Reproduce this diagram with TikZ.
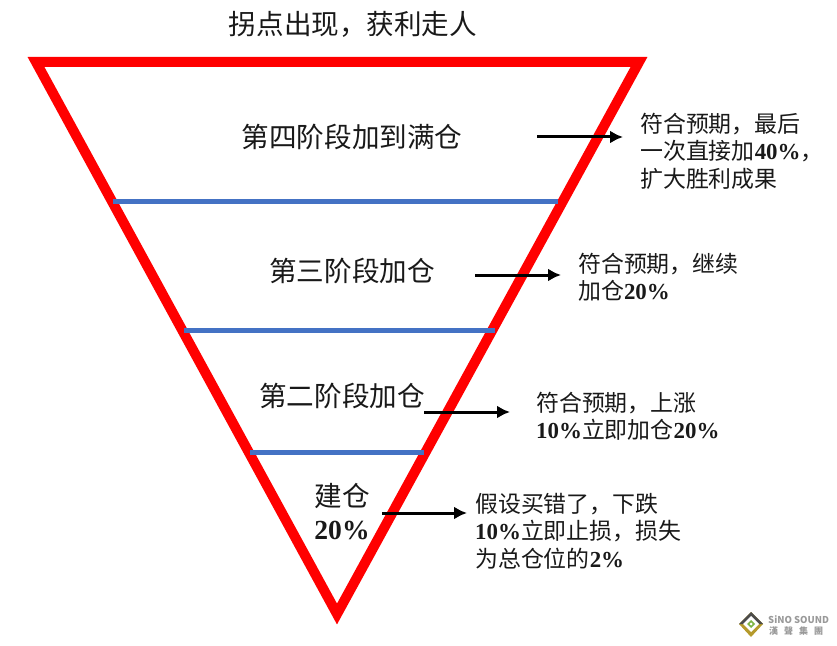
\documentclass[tikz,border=0pt]{standalone}
\usepackage{fontspec}
\setmainfont{Noto Sans CJK SC}
\newfontfamily\numfont{Liberation Serif}
\newcommand{\digits}[1]{{\numfont\bfseries #1}}
\usepackage{xcolor}
\usetikzlibrary{arrows.meta, positioning}
\definecolor{vred}{HTML}{FF0000}
\definecolor{lineblue}{HTML}{4472C4}
\definecolor{logogold}{HTML}{B59A2C}
\definecolor{logogreen}{HTML}{7DB544}
\begin{document}
\begin{tikzpicture}
[>={Latex[length=13bp,width=13bp]}, x=1bp, y=-1bp]
% Define styles for triangle, levels, arrows and texts
\tikzstyle{funnel} = [draw=vred, line width=10bp, line join=miter, miter limit=10]
\tikzstyle{level} = [draw=lineblue, line width=5bp]
\tikzstyle{pointer} = [draw=black, line width=3bp, ->]
\tikzstyle{stage} = [font=\fontsize{27.7}{33}\selectfont, text=black!90, align=center, inner sep=0pt]
\tikzstyle{remark} = [font=\fontsize{23}{27.5}\selectfont, text=black!90, align=left, inner sep=0pt, anchor=west]
\useasboundingbox (0,0) rectangle (837,646);

% Triangle corners and levels
\coordinate (topleft) at (36,62);
\coordinate (topright) at (639,62);
\coordinate (bottom) at (337,614);
\draw [funnel] (topleft) -- (topright) -- (bottom) -- cycle;

\coordinate (level3w) at (113,202);
\coordinate (level3e) at (558,202);
\coordinate (level2w) at (184,330);
\coordinate (level2e) at (495,330);
\coordinate (level1w) at (250,452);
\coordinate (level1e) at (424,452);
\draw [level] (level3w) -- (level3e);
\draw [level] (level2w) -- (level2e);
\draw [level] (level1w) -- (level1e);

% Nodes placement
\node [stage] (title) at (353,24) {拐点出现，获利走人};
\node [stage] (stage4) at (352,137) {第四阶段加到满仓};
\node [stage] (stage3) at (352,271) {第三阶段加仓};
\node [stage] (stage2) at (342,396) {第二阶段加仓};
\node [stage] (stage1) at (342,512) {建仓\\\digits{20\%}};

\node [remark] (remark4) at (640,151) {符合预期，最后\\一次直接加\digits{40\%}，\\扩大胜利成果};
\node [remark] (remark3) at (578,277) {符合预期，继续\\加仓\digits{20\%}};
\node [remark] (remark2) at (536,416) {符合预期，上涨\\\digits{10\%}立即加仓\digits{20\%}};
\node [remark] (remark1) at (475,531) {假设买错了，下跌\\\digits{10\%}立即止损，损失\\为总仓位的\digits{2\%}};

% Draw arrows
\coordinate (from4) at (537,137);
\coordinate (to4) at (623,137);
\coordinate (from3) at (475,275);
\coordinate (to3) at (561,275);
\coordinate (from2) at (424,412);
\coordinate (to2) at (510,412);
\coordinate (from1) at (382,513);
\coordinate (to1) at (467,513);
\draw [pointer] (from4) -- (to4);
\draw [pointer] (from3) -- (to3);
\draw [pointer] (from2) -- (to2);
\draw [pointer] (from1) -- (to1);

% Logo in the corner
\fill [logogold] (751,612) -- (763,624) -- (751,637) -- (739,624) -- cycle;
\fill [black!70] (751,612) -- (763,624) -- (751,624) -- (739,624) -- cycle;
\fill [white] (751,616) -- (759,624) -- (751,632) -- (743,624) -- cycle;
\fill [logogreen] (751,620) -- (755,624) -- (751,628) -- (747,624) -- cycle;
\fill [white] (751,622.5) -- (752.5,624) -- (751,625.5) -- (749.5,624) -- cycle;
\node [inner sep=0pt, text=black!40, font=\fontsize{9.5}{11}\selectfont\bfseries, anchor=west] (logoname) at (768,620) {SiNO SOUND};
\node [inner sep=0pt, text=black!40, font=\fontsize{9}{10}\selectfont\bfseries, anchor=west] (logocn) at (769,631) {漢\hspace{6bp}聲\hspace{6bp}集\hspace{6bp}團};
\end{tikzpicture}
\end{document}
